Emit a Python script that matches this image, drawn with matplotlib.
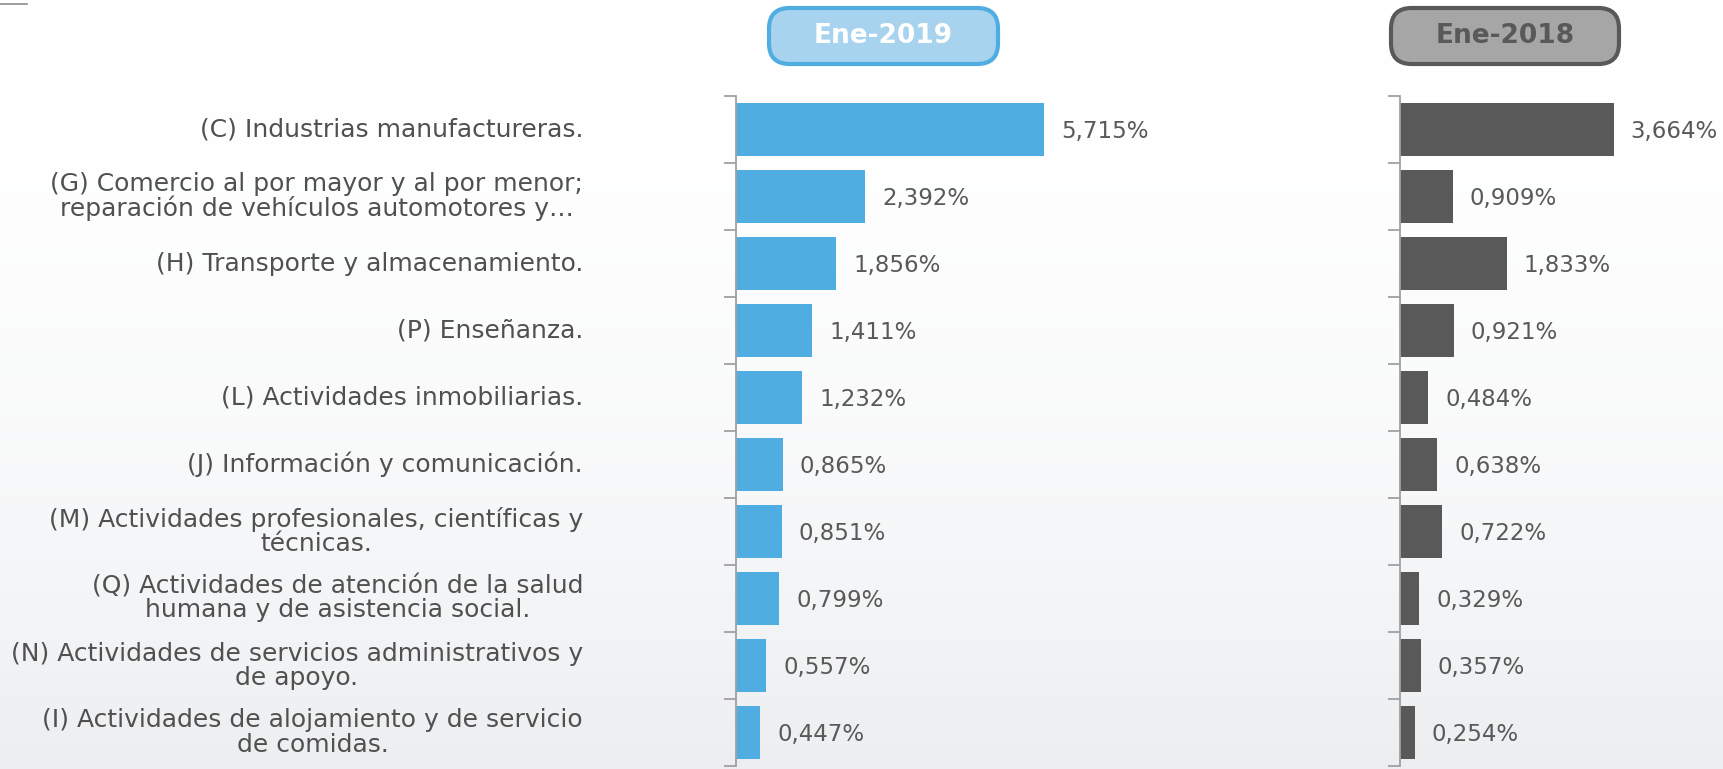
import numpy as np
import matplotlib
matplotlib.use("Agg")
import matplotlib.pyplot as plt
from matplotlib.patches import FancyBboxPatch
import matplotlib.transforms as mtransforms

categories = [
    "(C) Industrias manufactureras.",
    "(G) Comercio al por mayor y al por menor;\nreparación de vehículos automotores y…",
    "(H) Transporte y almacenamiento.",
    "(P) Enseñanza.",
    "(L) Actividades inmobiliarias.",
    "(J) Información y comunicación.",
    "(M) Actividades profesionales, científicas y\ntécnicas.",
    "(Q) Actividades de atención de la salud\nhumana y de asistencia social.",
    "(N) Actividades de servicios administrativos y\nde apoyo.",
    "(I) Actividades de alojamiento y de servicio\nde comidas.",
]
ene_2019 = [5.715, 2.392, 1.856, 1.411, 1.232, 0.865, 0.851, 0.799, 0.557, 0.447]
ene_2018 = [3.664, 0.909, 1.833, 0.921, 0.484, 0.638, 0.722, 0.329, 0.357, 0.254]
headers = ["Ene-2019", "Ene-2018"]

plt.rcParams["font.family"] = ["DejaVu Sans"]
W, H = 1723, 769
fig = plt.figure(figsize=(W / 100, H / 100), dpi=100)

# soft light background
bg = fig.add_axes([0, 0, 1, 1], zorder=-10)
grad = np.linspace(0, 1, 256)[:, None] ** 2
bg.imshow(grad, aspect="auto", cmap=matplotlib.colors.LinearSegmentedColormap.from_list(
    "bg", ["#ffffff", "#eceef0"]), extent=[0, 1, 0, 1], origin="upper")
bg.set_axis_off()
fig.add_artist(plt.Line2D([0, 27 / W], [1 - 4 / H, 1 - 4 / H], color="#8c8c8c", lw=1.2))

bottom = 1 - 766 / H
height = 670 / H
ax1 = fig.add_axes([736 / W, bottom, 514 / W, height])
ax2 = fig.add_axes([1400 / W, bottom, 323 / W, height])

y = np.arange(len(categories))
for ax, vals, color, xmax in [(ax1, ene_2019, "#4FADE1", 514 / 53.9),
                              (ax2, ene_2018, "#595959", 323 / 58.3)]:
    ax.barh(y, vals, height=0.78, color=color)
    ax.set_xlim(0, xmax)
    ax.set_ylim(len(categories) - 0.5, -0.5)
    ax.patch.set_alpha(0)
    for s in ["top", "right", "bottom"]:
        ax.spines[s].set_visible(False)
    ax.spines["left"].set_color("#a0a0a0")
    ax.spines["left"].set_linewidth(1.3)
    ax.set_xticks([])
    ax.set_yticks(np.arange(len(categories) + 1) - 0.5)
    ax.set_yticklabels([])
    ax.tick_params(axis="y", length=9, width=1.3, color="#a0a0a0")
    offset = 17 / (ax.get_position().width * W) * xmax
    for yi, v in zip(y, vals):
        ax.text(v + offset, yi + 0.03, f"{v:.3f}%".replace(".", ","), va="center", ha="left",
                fontsize=16.5, color="#595959", clip_on=False)

trans = mtransforms.blended_transform_factory(fig.transFigure, ax1.transData)
for yi, lab in zip(y, categories):
    ax1.text(583 / W, yi, lab, transform=trans, ha="right", va="center",
             multialignment="center", fontsize=18, color="#505050", linespacing=1.0)

# header boxes
for (x0, x1), txt, fc, ec, tc in [((769, 998), headers[0], "#A8D3EE", "#4FADE1", "white"),
                                  ((1391, 1619), headers[1], "#A6A6A6", "#595959", "#595959")]:
    box = FancyBboxPatch((x0 / W, 1 - 64 / H), (x1 - x0) / W, 56 / H,
                         boxstyle="round,pad=0,rounding_size=0.012",
                         transform=fig.transFigure, fc=fc, ec=ec, lw=3, mutation_aspect=W / H)
    fig.add_artist(box)
    fig.text((x0 + x1) / 2 / W, 1 - 36 / H, txt, ha="center", va="center",
             fontsize=19, fontweight="bold", color=tc)

fig.savefig("out.png", dpi=100)
